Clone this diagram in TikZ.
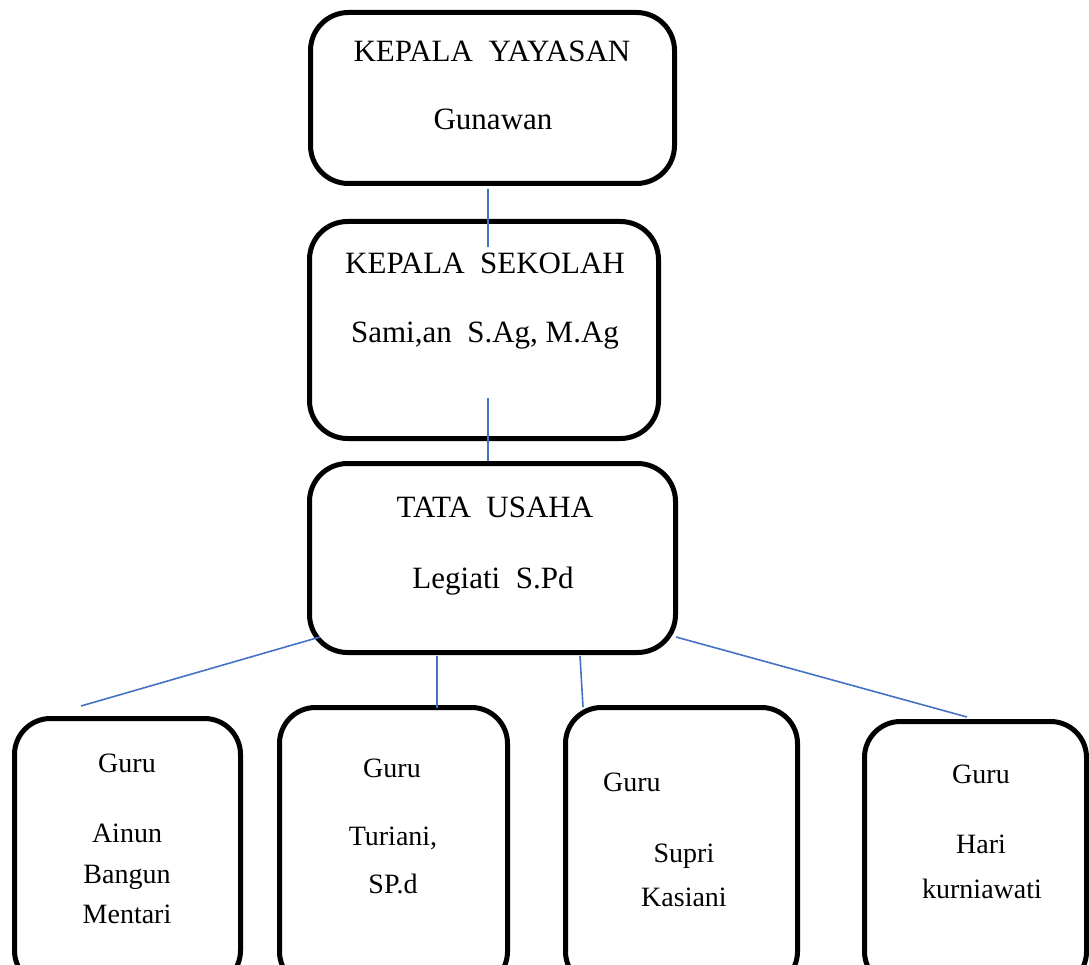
\documentclass[tikz,border=0pt]{standalone}
\usepackage{fontspec}
\setmainfont{Liberation Serif}
\begin{document}
\begin{tikzpicture}[x=1pt,y=-1pt,
  box/.style={draw=black,line width=5pt,rounded corners=38pt,inner sep=0pt},
  big/.style={anchor=base,inner sep=0pt,font=\fontsize{31}{36}\selectfont},
  small/.style={anchor=base,inner sep=0pt,font=\fontsize{28}{33}\selectfont},
  conn/.style={draw={rgb,255:red,68;green,114;blue,196},line width=1.6pt}]
\useasboundingbox (0,0) rectangle (1089,965);
\begin{scope}
\clip (0,0) rectangle (1089,965);
% boxes
\node[box,minimum width=364pt,minimum height=171pt] (yay) at (492.5,98) {};
\node[box,minimum width=349pt,minimum height=217pt] (sek) at (484,330) {};
\node[box,minimum width=366pt,minimum height=189pt] (tu) at (492.5,558) {};
\node[box,rounded corners=36pt,minimum width=226pt,minimum height=268pt] (g1) at (127.5,852.5) {};
\node[box,rounded corners=36pt,minimum width=228pt,minimum height=280pt] (g2) at (393.5,847.5) {};
\node[box,rounded corners=36pt,minimum width=232pt,minimum height=280pt] (g3) at (681.5,847.5) {};
\node[box,rounded corners=36pt,minimum width=222pt,minimum height=266pt] (g4) at (975.5,854.5) {};
\end{scope}
% texts
\node[big] (t1a) at (492,62) {KEPALA\ \ YAYASAN};
\node[big] (t1b) at (493,130) {Gunawan};
\node[big] (t2a) at (485,274) {KEPALA\ \ SEKOLAH};
\node[big] (t2b) at (485,342) {Sami,an\ \ S.Ag, M.Ag};
\node[big] (t3a) at (495,517) {TATA\ \ USAHA};
\node[big] (t3b) at (493,588) {Legiati\ \ S.Pd};
\node[small] (a1) at (127,772) {Guru};
\node[small] (a2) at (127,842) {Ainun};
\node[small] (a3) at (127,883) {Bangun};
\node[small] (a4) at (127,923) {Mentari};
\node[small] (b1) at (392,777) {Guru};
\node[small] (b2) at (393,845) {Turiani,};
\node[small] (b3) at (393,893) {SP.d};
\node[small,anchor=base west] (c1) at (603,791) {Guru};
\node[small] (c2) at (684,862) {Supri};
\node[small] (c3) at (684,906) {Kasiani};
\node[small] (d1) at (981,783) {Guru};
\node[small] (d2) at (981,853) {Hari};
\node[small] (d3) at (982,898) {kurniawati};
% connector end points
\coordinate (p1a) at (488,189);
\coordinate (p1b) at (488,247);
\coordinate (p2a) at (488,398);
\coordinate (p2b) at (488,461);
\coordinate (p3a) at (320,637);
\coordinate (p3b) at (81,706);
\coordinate (p4a) at (437,656);
\coordinate (p4b) at (437,708);
\coordinate (p5a) at (580,656);
\coordinate (p5b) at (583,707);
\coordinate (p6a) at (676,637);
\coordinate (p6b) at (967,717);
\draw[conn] (p1a) -- (p1b);
\draw[conn] (p2a) -- (p2b);
\draw[conn] (p3a) -- (p3b);
\draw[conn] (p4a) -- (p4b);
\draw[conn] (p5a) -- (p5b);
\draw[conn] (p6a) -- (p6b);
\end{tikzpicture}
\end{document}
